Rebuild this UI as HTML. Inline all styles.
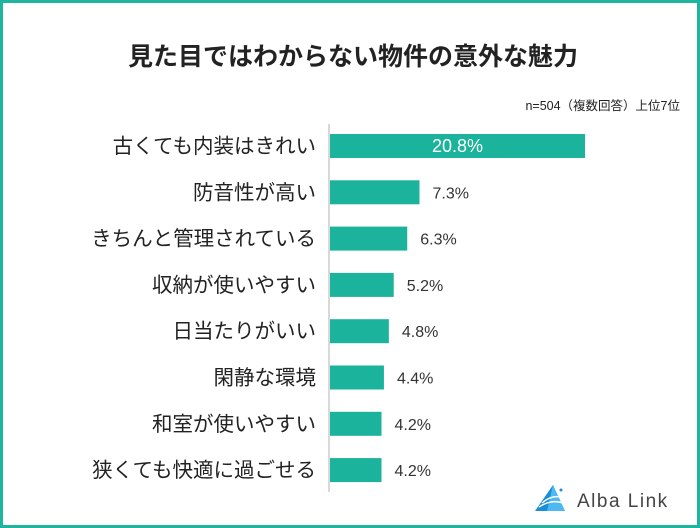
<!DOCTYPE html>
<html><head><meta charset="utf-8">
<style>
body{margin:0;background:#fff;}
#frame{position:absolute;left:0;top:0;width:700px;height:528px;box-sizing:border-box;border:3px solid #1db59e;background:#fff;font-family:"Liberation Sans","Noto Sans CJK JP",sans-serif;overflow:hidden;}
#title{position:absolute;left:0;width:700px;top:34px;text-align:center;font-size:25px;font-weight:bold;color:#222;font-family:"Noto Sans CJK JP",sans-serif;}
#sub{position:absolute;right:17px;top:92px;font-size:12.5px;color:#222;font-family:"Liberation Sans","Noto Sans CJK JP",sans-serif;}
#logo{position:absolute;left:530px;top:478px;}
</style></head><body>
<div id="frame">
<div id="title">見た目ではわからない物件の意外な魅力</div>
<div id="sub">n=504（複数回答）上位7位</div>
<svg id="chart" width="700" height="528" style="position:absolute;left:-3px;top:-3px"></svg>
<div id="logo">
<svg width="160" height="36">
<polygon points="2,30 20,4 32,30" fill="#1a8fd8"/>
<polygon points="20,4 32,30 14,30" fill="#4fb8ee"/>
<path d="M6,26 Q18,18 30,22 M9,22 Q18,14 28,16" stroke="#fff" stroke-width="1.5" fill="none"/>
<circle cx="28" cy="9" r="1.5" fill="#1a8fd8"/>
<text x="44" y="26" font-family="Liberation Sans, sans-serif" font-size="19" fill="#444" letter-spacing="1.5">Alba Link</text>
</svg></div>
</div>
<script>
const categories=["古くても内装はきれい","防音性が高い","きちんと管理されている","収納が使いやすい","日当たりがいい","閑静な環境","和室が使いやすい","狭くても快適に過ごせる"];
const values=[20.8,7.3,6.3,5.2,4.8,4.4,4.2,4.2];
const ns="http://www.w3.org/2000/svg";
const svg=document.getElementById('chart');
const x0=330, pxPer=12.26, y0=146, step=46.3, bh=24;
const xs=v=>x0+v*pxPer;
const yc=i=>y0+i*step;
function mk(t,a){const e=document.createElementNS(ns,t);for(const k in a)e.setAttribute(k,a[k]);svg.appendChild(e);return e;}
const ax=mk('line',{x1:329,x2:329,y1:124,y2:492,stroke:'#ccc','stroke-width':1.5});


categories.forEach((c,i)=>{
  const r=mk('rect',{x:x0,y:yc(i)-bh/2,width:xs(values[i])-x0,height:bh,fill:'#1bb39b'});
  
  
  const l=mk('text',{x:316,y:yc(i)+7,'text-anchor':'end','font-size':20.5,fill:'#222','font-family':'Noto Sans CJK JP, sans-serif'});
  l.textContent=c;
  
  
  const inside=i===0;
  const v=mk('text',{x:inside?(x0+xs(values[i]))/2:xs(values[i])+13,y:yc(i)+6,'text-anchor':inside?'middle':'start','font-size':inside?18:16,fill:inside?'#fff':'#333','font-family':'Liberation Sans, sans-serif'});
  v.textContent=values[i].toFixed(1)+'%';
  
  
});
</script>
</body></html>
